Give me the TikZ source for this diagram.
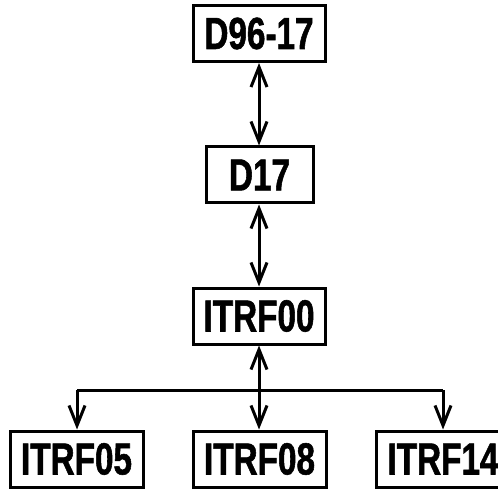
\documentclass[tikz,border=0pt]{standalone}
\usepackage{fontspec}
\setmainfont{Liberation Sans}[FakeStretch=0.74,BoldFeatures={FakeBold=1.2}]
\usetikzlibrary{arrows.meta}
\begin{document}
\begin{tikzpicture}[x=1pt,y=1pt,
  box/.style={draw=black, line width=3pt, inner sep=0pt, minimum height=56pt,
    font=\fontsize{45}{48}\selectfont\bfseries},
  conn/.style={line width=3pt, -{Straight Barb[length=20pt,width=16pt,line width=3pt]}},
  conn2/.style={line width=3pt, {Straight Barb[length=20pt,width=16pt,line width=3pt]}-{Straight Barb[length=20pt,width=16pt,line width=3pt]}}]
\useasboundingbox (0,0) rectangle (498,488);
\node[box, minimum width=132pt] (A) at (259,454.5) {D96-17};
\node[box, minimum width=107pt] (B) at (259.5,313) {D17};
\node[box, minimum width=132pt] (C) at (259,172) {ITRF00};
\node[box, minimum width=133pt] (E) at (76.5,29) {ITRF05};
\node[box, minimum width=133pt] (F) at (259.5,29) {ITRF08};
\node[box, minimum width=133pt] (G) at (443,29) {ITRF14};
\coordinate (h1) at (77,98);
\coordinate (h2) at (443,98);
\draw[conn2] (A.south -| 259,0) -- (B.north -| 259,0);
\draw[conn2] (B.south -| 259,0) -- (C.north -| 259,0);
\draw[conn2] (C.south -| 259,0) -- (F.north -| 259,0);
\draw[line width=3pt] (h1) -- (h2);
\draw[conn] (h1) -- (h1 |- E.north);
\draw[conn] (h2) -- (h2 |- G.north);
\end{tikzpicture}
\end{document}
